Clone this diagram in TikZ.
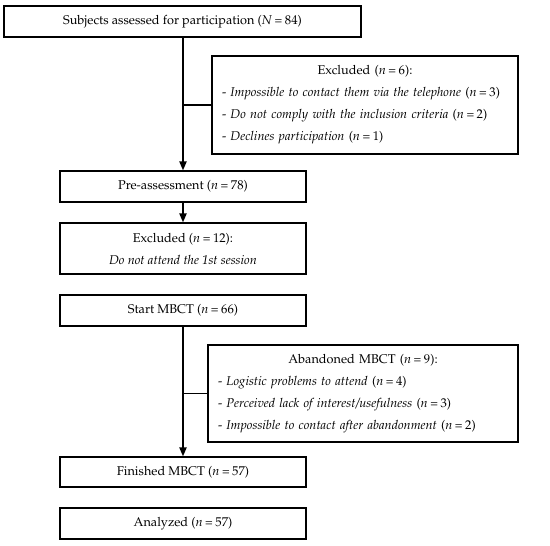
\documentclass[tikz,border=0pt]{standalone}
\usepackage[T1]{fontenc}
\usepackage{mathpazo}
\usetikzlibrary{arrows.meta}
\newcommand{\nn}[1]{\textit{n}\hspace{0.2em}=\hspace{0.2em}#1}
\begin{document}
\begin{tikzpicture}[x=1pt,y=-1pt,
  every node/.style={font=\fontsize{12.7}{22}\selectfont},
  box/.style={draw,line width=1.1pt,inner sep=0pt,minimum height=31pt,anchor=center},
  lbox/.style={box,inner xsep=10pt,align=left},
  conn/.style={line width=1.9pt},
  arr/.style={conn,-{Triangle[length=9pt,width=7pt]}}]
\useasboundingbox (0,0) rectangle (550,546);
\node[box,minimum width=357pt] (s1) at (182.5,21.5) {Subjects assessed for participation (\textit{N}\hspace{0.2em}=\hspace{0.2em}84)};
\node[lbox,text width=286pt,minimum height=98pt] (ex1) at (365,105) {%
  \makebox[286pt]{Excluded (\nn{6}):}\\
  - \textit{Impossible to contact them via the telephone} (\nn{3})\\
  - \textit{Do not comply with the inclusion criteria} (\nn{2})\\
  - \textit{Declines participation} (\nn{1})};
\node[box,minimum width=246pt] (pre) at (183,186.5) {Pre-assessment (\nn{78})};
\node[box,minimum width=246pt,minimum height=51pt,align=center] (ex2) at (183,248.5) {Excluded (\nn{12}):\\\textit{Do not attend the 1st session}};
\node[box,minimum width=246pt] (start) at (183,310.5) {Start MBCT (\nn{66})};
\node[lbox,text width=290pt,minimum height=97pt] (ab) at (363,393.5) {%
  \makebox[290pt]{Abandoned MBCT (\nn{9}):}\\
  - \textit{Logistic problems to attend} (\nn{4})\\
  - \textit{Perceived lack of interest/usefulness} (\nn{3})\\
  - \textit{Impossible to contact after abandonment} (\nn{2})};
\node[box,minimum width=246pt,minimum height=30pt] (fin) at (183,472) {Finished MBCT (\nn{57})};
\node[box,minimum width=246pt] (ana) at (183,523.5) {Analyzed (\nn{57})};
\draw[arr] (pre.north |- s1.south) -- (pre.north);
\draw[conn] (pre.north |- ex1.west) -- (ex1.west);
\draw[arr] (pre.south) -- (ex2.north);
\draw[arr] (start.south) -- (fin.north);
\draw[conn] (fin.north |- ab.west) -- (ab.west);
\end{tikzpicture}
\end{document}
